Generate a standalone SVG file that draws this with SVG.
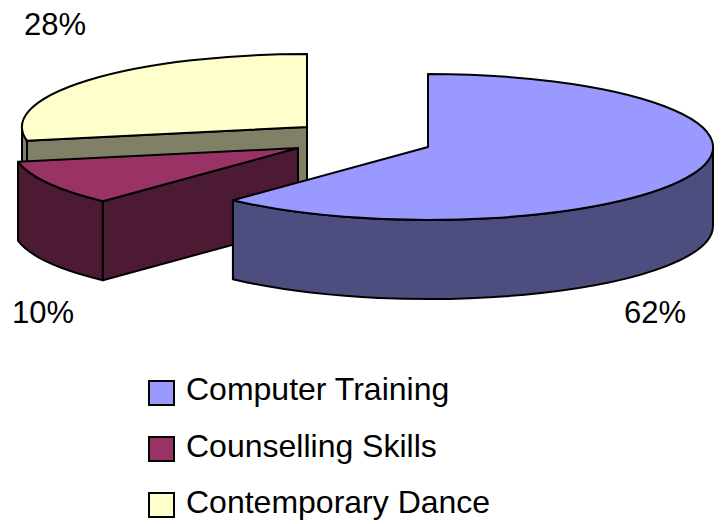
<svg xmlns="http://www.w3.org/2000/svg" width="725" height="524" viewBox="0 0 725 524">
<style>
.e{stroke:#000;stroke-width:2;stroke-linejoin:round}
.t{font-family:"Liberation Sans",Arial,sans-serif;font-size:31px;fill:#000}
.l{font-size:32px}
.sw{stroke:#000;stroke-width:2}
</style>
<rect width="725" height="524" fill="#fff"/>
<g id="slice-contemporary-dance">
<path class="e" fill="#808066" d="M 27,140.7 A 285,73 0 0 1 22,127 L 22,206 A 285,73 0 0 0 27,219.7 Z"/>
<path class="e" fill="#808066" d="M 307,127 L 27,140.7 L 27,219.7 L 307,206 Z"/>
<path class="e" fill="#FFFFCC" d="M 307,127 L 27,140.7 A 285,73 0 0 1 307,54 Z"/>
</g>
<g id="slice-counselling-skills">
<path class="e" fill="#4D1A33" d="M 102.9,201.2 A 285,73 0 0 1 18,161.7 L 18,240.7 A 285,73 0 0 0 102.9,280.2 Z"/>
<path class="e" fill="#4D1A33" d="M 298,148 L 102.9,201.2 L 102.9,280.2 L 298,227 Z"/>
<path class="e" fill="#993366" d="M 298,148 L 102.9,201.2 A 285,73 0 0 1 18,161.7 Z"/>
</g>
<g id="slice-computer-training">
<path class="e" fill="#4D4D80" d="M 713,147 A 285,73 0 0 1 232.9,200.2 L 232.9,279.2 A 285,73 0 0 0 713,226 Z"/>
<path class="e" fill="#9999FF" d="M 428,147 L 428,74 A 285,73 0 1 1 232.9,200.2 Z"/>
</g>
<g id="labels">
<text class="t" x="24" y="35">28%</text>
<text class="t" x="12" y="323">10%</text>
<text class="t" x="624" y="323">62%</text>
</g>
<g id="legend">
<g id="legend-computer-training">
<rect class="sw" x="149" y="381" width="25" height="24" fill="#9999FF"/>
<text class="t l" x="186" y="400">Computer Training</text>
</g>
<g id="legend-counselling-skills">
<rect class="sw" x="149" y="437" width="25" height="24" fill="#993366"/>
<text class="t l" x="186" y="457">Counselling Skills</text>
</g>
<g id="legend-contemporary-dance">
<rect class="sw" x="149" y="493" width="25" height="24" fill="#FFFFCC"/>
<text class="t l" x="186" y="513">Contemporary Dance</text>
</g>
</g>
</svg>
